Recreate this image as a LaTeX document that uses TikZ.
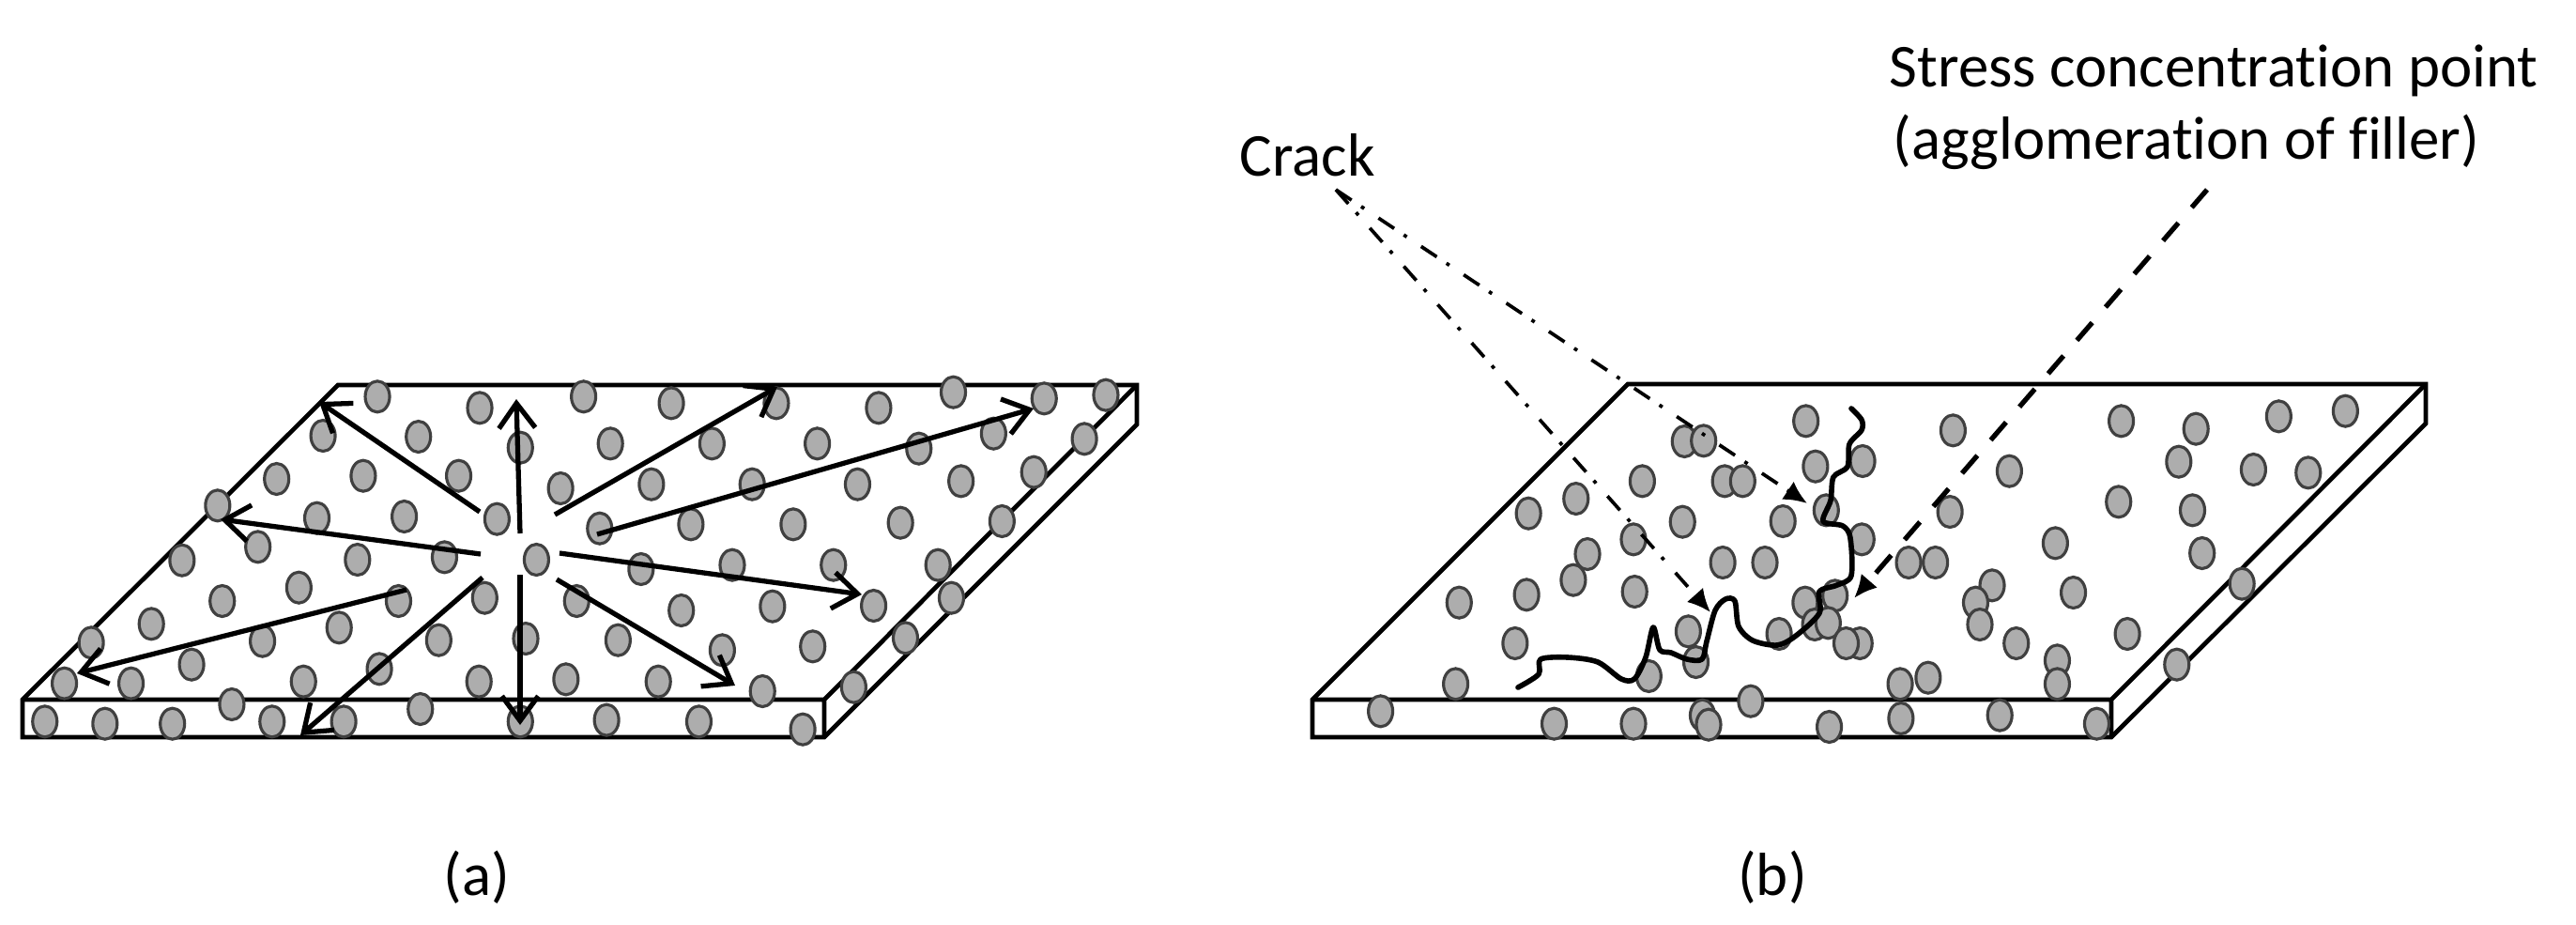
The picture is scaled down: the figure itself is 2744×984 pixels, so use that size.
\documentclass[tikz,border=0pt]{standalone}
\usepackage{fontspec}
\setmainfont{Carlito}[Ligatures=NoCommon]
\usetikzlibrary{arrows.meta}
\tikzset{
  x=0.01cm,y=-0.01cm,
  slab/.style={line width=1.35pt,black,line join=miter},
  filler/.style={draw=black!75,fill=black!32,line width=0.9pt},
  radial/.style={line width=1.5pt,-{Straight Barb[length=7.5pt,width=11pt,line width=1.5pt]}},
  crackline/.style={line width=1.6pt,line join=round,line cap=round},
  crackleader/.style={line width=1.05pt,dash pattern=on 5.7pt off 3.5pt on 1.1pt off 5.2pt,-{Latex[length=7pt,width=6.5pt]}},
  stressleader/.style={line width=1.5pt,dash pattern=on 7.1pt off 6.2pt,-{Latex[length=7pt,width=6.5pt]}},
  lab/.style={inner sep=0pt,font=\fontsize{18.45}{22}\selectfont,align=left},
}
\newcommand\fillerset[2]{\foreach \x/\y in {#2}{\draw[filler] ({#1+\x/2.45},{380+\y/3}) ellipse (13 and 16.5);}}
\begin{document}
\begin{tikzpicture}
\useasboundingbox (0,0) rectangle (2744,984);
% left slab
\draw[slab] (360,410) -- (1211,410) -- (1211,452) -- (878,785) -- (24,785) -- (24,745) -- cycle;
\draw[slab] (24,745) -- (878,745) -- (1211,410) (878,745) -- (878,785);
\fillerset{0}{985/127,1252/163,1523/127,1092/255,843/252,1358/290,1197/380,948/380,722/390,1463/420,568/475,1297/518,827/515,1055/510,1565/548,673/607,1160/640,933/648,475/650,1400/648,780/737,580/780,1265/770,1040/780,1505/780,395/853,885/865,685/908,1145/905,1372/900,238/913,500/983,990/997,792/1037,1250/1037,1477/1030,168/1043,342/1043,605/1110,1097/1125,117/1165,274/1172,450/1172,710/1165,897/1165,1358/1165}
\fillerset{640}{184/148,458/148,725/163,920/113,1157/133,1318/122,25/277,290/277,565/277,830/293,1025/245,1262/262,132/407,395/407,670/407,940/397,1130/368,235/535,502/535,782/530,1047/525,105/678,343/665,607/665,880/665,210/810,448/797,712/795,915/770,45/905,317/937,553/925,795/898,150/1037,422/1068,660/1055,15/1160,256/1165,527/1190}
\draw[radial] (554,568) -- (550,425);
\draw[radial] (511,545) -- (340,428);
\draw[radial] (512,590) -- (235,553);
\draw[radial] (433,628) -- (82,717);
\draw[radial] (514,615) -- (320,783);
\draw[radial] (554,612) -- (554,772);
\draw[radial] (593,617) -- (783,730);
\draw[radial] (596,589) -- (918,633);
\draw[radial] (636,569) -- (1101,435);
\draw[radial] (591,548) -- (828,412);
% right slab
\draw[slab] (1734,409) -- (2584,409) -- (2584,451) -- (2249,785) -- (1398,785) -- (1398,745) -- cycle;
\draw[slab] (1398,745) -- (2249,745) -- (2584,409) (2249,745) -- (2249,785);
\fillerset{1380}{1332/205,1015/270,1065/268,1480/333,1357/350,905/397,1120/397,1167/397,732/453,1385/490,608/500,1272/525,1010/527,882/583,1478/583,762/630,1115/657,1225/657,725/713,1408/763,1330/785,603/760,885/750,427/785,1025/877,1262/885,1355/855,1390/850,573/915,1473/915,1437/915,1045/975,922/1020,418/1045,222/1132,1188/1100,675/1172,882/1172,1062/1145,1078/1175,1393/1182}
\fillerset{2020}{148/235,587/205,782/230,998/190,1172/173,737/335,295/365,932/360,1075/370,140/495,580/463,773/490,415/595,798/627,32/657,102/657,250/730,207/785,218/855,462/753,603/885,313/915,420/970,420/1045,83/1025,10/1045,902/725,732/983,270/1145,523/1172,12/1155}
% crack
\draw[crackline] plot[smooth,tension=0.5] coordinates {
 (1972,435) (1983,447) (1983,458) (1970,473) (1968,497) (1953,508)
 (1950,533) (1942,555) (1963,560) (1971,573) (1972,613) (1957,623)
 (1938,630) (1938,653) (1913,677) (1893,687) (1867,682) (1852,667) (1848,640)
 (1838,638) (1827,650) (1818,683) (1813,702) (1797,702) (1780,695) (1768,692) (1761,668)
 (1753,700) (1741,723) (1727,723) (1702,705) (1670,700) (1641,702) (1639,718) (1617,732)};
% labels and leaders
\node[lab,anchor=base west] (crack) at (1320,187) {Crack};
\node[lab,anchor=base west] (stressA) at (2012,92) {Stress concentration point};
\node[lab,anchor=base west] (stressB) at (2016,169) {(agglomeration of filler)};
\node[lab,anchor=base] (a) at (508,953) {(a)};
\node[lab,anchor=base] (b) at (1888,953) {(b)};
\coordinate (leadstart) at (1423,202);
\coordinate (stressstart) at (2351,202);
\coordinate (tipone) at (1925,536);
\coordinate (tiptwo) at (1822,652);
\coordinate (tipthree) at (1975,637);
\draw[crackleader] (leadstart) -- (tipone);
\draw[crackleader] (leadstart) -- (tiptwo);
\draw[stressleader] (stressstart) -- (tipthree);
\end{tikzpicture}
\end{document}
